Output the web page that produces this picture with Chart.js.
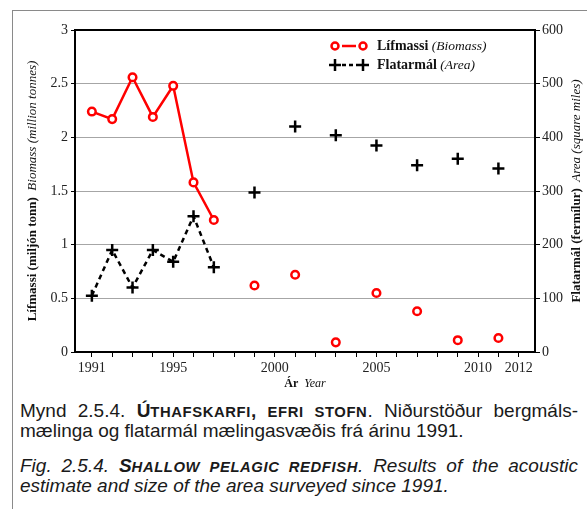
<!DOCTYPE html>
<html>
<head>
<meta charset="utf-8">
<script src="https://cdn.jsdelivr.net/npm/chart.js@4.4.1/dist/chart.umd.min.js"></script>
<style>
    html, body {
        margin: 0;
        padding: 0;
        background: #ffffff;
        width: 587px;
        height: 509px;
        overflow: hidden;
    }

    #frame {
        position: absolute;
        left: 12px;
        top: 10px;
        width: 600px;
        height: 520px;
        border-left: 1px solid #8a8a8a;
        border-top: 1px solid #8a8a8a;
    }

    #wrap {
        position: absolute;
        left: 0;
        top: 0;
        width: 587px;
        height: 400px;
    }

    .line {
        position: absolute;
        left: 20px;
        width: 558px;
        font-family: "Liberation Sans", Arial, sans-serif;
        font-size: 19px;
        line-height: 20px;
        color: #1a1a1a;
        white-space: nowrap;
    }

    .full {
        white-space: normal;
        text-align: justify;
        text-align-last: justify;
    }

    .it {
        font-style: italic;
    }

    .sm {
        font-size: 0.78em;
        letter-spacing: 0.6px;
    }
</style>
</head>
<body>
<div id="frame"></div>
<div id="wrap"><canvas id="chart" width="587" height="400"></canvas></div>

<div class="line full" style="top: 401px;">Mynd 2.5.4. <b>Ú<span class="sm">THAFSKARFI</span>, <span class="sm">EFRI STOFN</span></b>. Niðurstöður bergmáls-</div>
<div class="line" style="top: 421px;">mælinga og flatarmál mælingasvæðis frá árinu 1991.</div>
<div class="line full it" style="top: 456px;">Fig. 2.5.4. <b>S<span class="sm">HALLOW PELAGIC REDFISH</span></b>. Results of the acoustic</div>
<div class="line it" style="top: 476px;">estimate and size of the area surveyed since 1991.</div>

<script>
const years = [1991, 1992, 1993, 1994, 1995, 1996, 1997, 1998, 1999, 2000, 2001,
               2002, 2003, 2004, 2005, 2006, 2007, 2008, 2009, 2010, 2011];

// milljón tonn
const biomass = [2.24, 2.17, 2.56, 2.19, 2.48, 1.58, 1.23, null, 0.62, null, 0.72,
                 null, 0.09, null, 0.55, null, 0.38, null, 0.11, null, 0.13];

// fermílur
const area = [105, 190, 120, 190, 168, 253, 158, null, 297, null, 420,
              null, 404, null, 385, null, 348, null, 360, null, 342];

const xTickLabels = [1991, 1995, 2000, 2005, 2010, 2012];

const SERIF = "'Liberation Serif', 'Times New Roman', serif";

function toPoints(values) {
    return years.map((year, i) => ({ x: year, y: values[i] }));
}

// titles, legend and plot frame with mixed bold / italic text
const decorPlugin = {
    id: "decor",
    afterDraw(chart) {
        const ctx = chart.ctx;
        const area = chart.chartArea;

        ctx.save();

        // top frame line
        ctx.strokeStyle = "#000";
        ctx.lineWidth = 2;
        ctx.beginPath();
        ctx.moveTo(area.left - 1, area.top);
        ctx.lineTo(area.right + 1, area.top);
        ctx.stroke();

        ctx.fillStyle = "#111";
        ctx.textBaseline = "middle";

        function mixed(parts, x, y, align) {
            let total = 0;
            parts.forEach(p => {
                ctx.font = p.font;
                total += ctx.measureText(p.text).width;
            });
            let cx = align === "center" ? x - total / 2 : x;
            ctx.textAlign = "left";
            parts.forEach(p => {
                ctx.font = p.font;
                ctx.fillText(p.text, cx, y);
                cx += ctx.measureText(p.text).width;
            });
        }

        const bold = "bold 13px " + SERIF;
        const ital = "italic 13px " + SERIF;

        // left axis title
        ctx.save();
        ctx.translate(33, 191);
        ctx.rotate(-Math.PI / 2);
        mixed([
            { text: "Lífmassi (miljón tonn)  ", font: bold },
            { text: "Biomass (million tonnes)", font: ital }
        ], 0, 0, "center");
        ctx.restore();

        // right axis title
        ctx.save();
        ctx.translate(577, 191);
        ctx.rotate(-Math.PI / 2);
        mixed([
            { text: "Flatarmál (fermílur)  ", font: bold },
            { text: "Area (square miles)", font: ital }
        ], 0, 0, "center");
        ctx.restore();

        // x axis title
        mixed([
            { text: "Ár  ", font: "bold 12px " + SERIF },
            { text: "Year", font: "italic 12px " + SERIF }
        ], (area.left + area.right) / 2, 384, "center");

        // legend
        const lx = 335;
        const ly1 = 46;
        const ly2 = 65;

        ctx.lineWidth = 2.5;
        ctx.strokeStyle = "#ff0000";
        ctx.beginPath();
        ctx.moveTo(lx + 7, ly1);
        ctx.lineTo(lx + 21, ly1);
        ctx.stroke();
        [lx, lx + 28].forEach(px => {
            ctx.beginPath();
            ctx.arc(px, ly1, 3.5, 0, Math.PI * 2);
            ctx.fillStyle = "#fff";
            ctx.fill();
            ctx.stroke();
        });

        ctx.strokeStyle = "#000";
        ctx.setLineDash([4, 3]);
        ctx.beginPath();
        ctx.moveTo(lx + 7, ly2);
        ctx.lineTo(lx + 22, ly2);
        ctx.stroke();
        ctx.setLineDash([]);
        [lx, lx + 28].forEach(px => {
            ctx.beginPath();
            ctx.moveTo(px - 6, ly2);
            ctx.lineTo(px + 6, ly2);
            ctx.moveTo(px, ly2 - 6);
            ctx.lineTo(px, ly2 + 6);
            ctx.stroke();
        });

        ctx.fillStyle = "#111";
        const lbold = "bold 14px " + SERIF;
        const lital = "italic 13.5px " + SERIF;
        mixed([
            { text: "Lífmassi ", font: lbold },
            { text: "(Biomass)", font: lital }
        ], 377, ly1, "left");
        mixed([
            { text: "Flatarmál ", font: lbold },
            { text: "(Area)", font: lital }
        ], 377, ly2, "left");

        ctx.restore();
    }
};

const tickFont = {
    family: SERIF,
    size: 14
};

new Chart(document.getElementById("chart"), {
    type: "line",

    data: {
        datasets: [
            {
                label: "Lífmassi (Biomass)",
                data: toPoints(biomass),
                yAxisID: "y",

                borderColor: "#ff0000",
                borderWidth: 2.5,
                spanGaps: false,
                tension: 0,

                pointStyle: "circle",
                pointRadius: 3.8,
                pointBorderWidth: 2.5,
                pointBackgroundColor: "#ffffff",
                pointBorderColor: "#ff0000"
            },
            {
                label: "Flatarmál (Area)",
                data: toPoints(area),
                yAxisID: "y2",

                borderColor: "#000000",
                borderWidth: 2.5,
                borderDash: [5, 4],
                spanGaps: false,
                tension: 0,

                pointStyle: "cross",
                pointRadius: 6,
                pointBorderWidth: 2.5,
                pointBorderColor: "#000000"
            }
        ]
    },

    options: {
        responsive: false,
        animation: false,
        events: [],

        layout: {
            padding: {
                top: 30,
                left: 0,
                right: 0,
                bottom: 0
            }
        },

        scales: {
            x: {
                type: "linear",
                min: 1990.17,
                max: 2012.8,

                afterBuildTicks: function (scale) {
                    const ticks = [];
                    for (let yr = 1991; yr <= 2012; yr++) {
                        ticks.push({ value: yr });
                    }
                    scale.ticks = ticks;
                },

                afterFit: function (scale) {
                    scale.height = 48;
                },

                ticks: {
                    autoSkip: false,
                    maxRotation: 0,
                    padding: 3,
                    color: "#222",
                    font: tickFont,
                    callback: function (value) {
                        return xTickLabels.includes(value) ? String(value) : "";
                    }
                },

                grid: {
                    drawOnChartArea: false,
                    tickLength: 5,
                    tickColor: "#000",
                    tickWidth: 1
                },

                border: {
                    color: "#000",
                    width: 2
                }
            },

            y: {
                position: "left",
                min: 0,
                max: 3,

                afterFit: function (scale) {
                    scale.width = 75;
                },

                ticks: {
                    stepSize: 0.5,
                    padding: 3,
                    color: "#222",
                    font: tickFont,
                    callback: function (value) {
                        return String(value);
                    }
                },

                grid: {
                    color: "#a6a6a6",
                    lineWidth: 1,
                    tickLength: 4,
                    tickColor: "#000"
                },

                border: {
                    color: "#000",
                    width: 2
                }
            },

            y2: {
                position: "right",
                min: 0,
                max: 600,

                afterFit: function (scale) {
                    scale.width = 52;
                },

                ticks: {
                    stepSize: 100,
                    padding: 2,
                    color: "#222",
                    font: tickFont
                },

                grid: {
                    drawOnChartArea: false,
                    tickLength: 5,
                    tickColor: "#000"
                },

                border: {
                    color: "#000",
                    width: 2
                }
            }
        },

        plugins: {
            legend: {
                display: false
            },
            tooltip: {
                enabled: false
            }
        }
    },

    plugins: [decorPlugin]
});
</script>
</body>
</html>
